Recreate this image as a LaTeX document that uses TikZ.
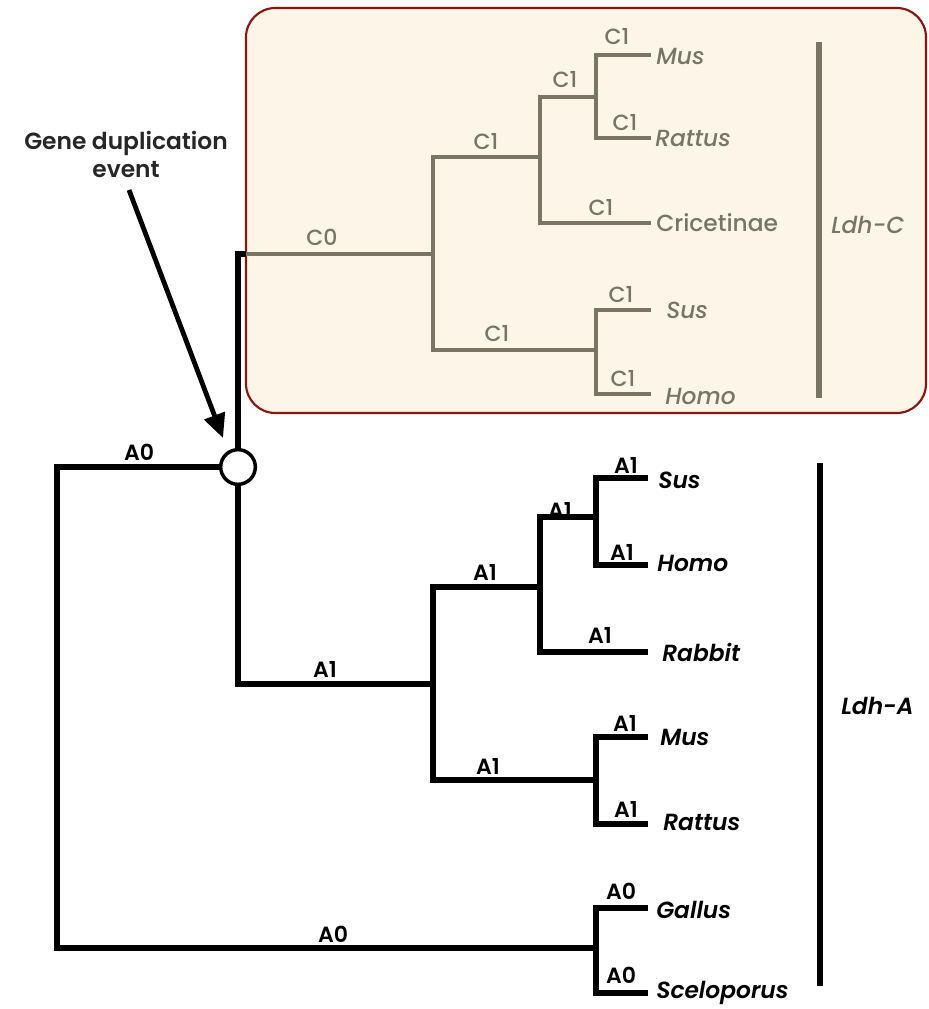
\documentclass[tikz,border=0pt]{standalone}
\usepackage{fontspec}
\setmainfont{Poppins}
\newfontfamily\popmed{Poppins Medium}
\newfontfamily\popsemi{Poppins SemiBold}
\usetikzlibrary{arrows.meta}
\definecolor{cgray}{RGB}{122,116,100}
\definecolor{ctext}{RGB}{122,116,102}
\definecolor{cbox}{RGB}{253,245,231}
\definecolor{cborder}{RGB}{140,22,12}
\tikzset{
  blk/.style={line width=3.8pt, black},
  gry/.style={line width=3.6pt, cgray},
  bar/.style={line width=4.6pt},
  albl/.style={font=\fontsize{16.5}{18}\selectfont\popsemi, inner sep=0pt, anchor=base},
  clbl/.style={font=\fontsize{16.5}{18}\selectfont\popmed, text=ctext, inner sep=0pt, anchor=base},
  aname/.style={font=\fontsize{17.5}{19}\selectfont\popsemi\itshape, inner sep=0pt, anchor=west},
  cname/.style={font=\fontsize{17.5}{19}\selectfont\popmed\itshape, text=ctext, inner sep=0pt, anchor=west},
}
\begin{document}
\begin{tikzpicture}[x=0.75pt,y=-0.75pt]
\useasboundingbox (0,0) rectangle (928,1009);
% box
\draw[cborder, fill=cbox, line width=1.6pt, rounded corners=22pt] (246,8) rectangle (926,413);

% ---------- coordinates ----------
\coordinate (r) at (57,700);
\node[circle, draw, line width=2.6pt, fill=white, minimum size=26pt, inner sep=0pt] (dup) at (238,467) {};
\coordinate (dtop) at (238,254);
\coordinate (bedge) at (246,254);
\coordinate (cn) at (433,254);
\coordinate (c1a) at (540,157);
\coordinate (c2a) at (596,97);
\coordinate (lcmus) at (651,55);
\coordinate (lcrat) at (651,138);
\coordinate (lccri) at (651,223);
\coordinate (c1b) at (596,350);
\coordinate (lcsus) at (651,310);
\coordinate (lchom) at (651,394);

\coordinate (an) at (433,684);
\coordinate (a1a) at (540,587);
\coordinate (a2a) at (596,517);
\coordinate (lasus) at (648,478);
\coordinate (lahom) at (648,565);
\coordinate (larab) at (648,652);
\coordinate (a1b) at (596,780);
\coordinate (lamus) at (648,737);
\coordinate (larat) at (648,824);
\coordinate (a0b) at (596,948);
\coordinate (lagal) at (648,908);
\coordinate (lasce) at (648,993);

% ---------- gray Ldh-C tree ----------
\draw[gry] (bedge) -- (cn);
\draw[gry] (cn) |- (c1a);
\draw[gry] (cn) |- (c1b);
\draw[gry] (c1a) |- (c2a);
\draw[gry] (c1a) |- (lccri);
\draw[gry] (c2a) |- (lcmus);
\draw[gry] (c2a) |- (lcrat);
\draw[gry] (c1b) |- (lcsus);
\draw[gry] (c1b) |- (lchom);

% ---------- black Ldh-A tree ----------
\draw[blk] (r) |- (dup.west);
\draw[blk] (r) |- (a0b);
\draw[blk] (dup.north) -- (dtop) -- (bedge);
\draw[blk] (dup.south) |- (an);
\draw[blk] (an) |- (a1a);
\draw[blk] (an) |- (a1b);
\draw[blk] (a1a) |- (a2a);
\draw[blk] (a1a) |- (larab);
\draw[blk] (a2a) |- (lasus);
\draw[blk] (a2a) |- (lahom);
\draw[blk] (a1b) |- (lamus);
\draw[blk] (a1b) |- (larat);
\draw[blk] (a0b) |- (lagal);
\draw[blk] (a0b) |- (lasce);

% ---------- bars ----------
\coordinate (cbt) at (819,42);
\coordinate (cbb) at (819,398);
\draw[bar, cgray] (cbt) -- (cbb);
\coordinate (abt) at (820,463);
\coordinate (abb) at (820,986);
\draw[bar, black] (abt) -- (abb);

% ---------- C labels ----------
\node[clbl] (lC0) at (322,245) {C0};
\node[clbl] (lC1a) at (486,150) {C1};
\node[clbl] (lC1b) at (497,341) {C1};
\node[clbl] (lC2a) at (565,88) {C1};
\node[clbl] (lCmus) at (617,45) {C1};
\node[clbl] (lCrat) at (625,131) {C1};
\node[clbl] (lCcri) at (601,216) {C1};
\node[clbl] (lCsus) at (621,302) {C1};
\node[clbl] (lChom) at (623,386) {C1};

\node[cname] (nCmus) at (656,56) {Mus};
\node[cname] (nCrat) at (655,138) {Rattus};
\node[cname, font=\fontsize{17.5}{19}\selectfont\popmed] (nCcri) at (656,223) {Cricetinae};
\node[cname] (nCsus) at (666,310) {Sus};
\node[cname] (nChom) at (665,396) {Homo};
\node[cname] (nLdhC) at (831,225) {Ldh-C};

% ---------- A labels ----------
\node[albl] (lA0a) at (139,460) {A0};
\node[albl] (lA1a) at (325,677) {A1};
\node[albl] (lA1b) at (485,580) {A1};
\node[albl] (lA2a) at (560,518) {A1};
\node[albl] (lAsus) at (626,473) {A1};
\node[albl] (lAhom) at (622,560) {A1};
\node[albl] (lArab) at (600,643) {A1};
\node[albl] (lA1c) at (488,774) {A1};
\node[albl] (lAmus) at (625,731) {A1};
\node[albl] (lArat) at (626,817) {A1};
\node[albl] (lA0b) at (333,942) {A0};
\node[albl] (lAgal) at (621,899) {A0};
\node[albl] (lAsce) at (621,983) {A0};

\node[aname] (nAsus) at (658,480) {Sus};
\node[aname] (nAhom) at (657,563) {Homo};
\node[aname] (nArab) at (662,652) {Rabbit};
\node[aname] (nAmus) at (660,737) {Mus};
\node[aname] (nArat) at (663,822) {Rattus};
\node[aname] (nAgal) at (656,910) {Gallus};
\node[aname] (nAsce) at (656,993) {Sceloporus};
\node[aname] (nLdhA) at (841,706) {Ldh-A};

% ---------- annotation ----------
\node[font=\fontsize{17.5}{21}\selectfont\popsemi, align=center, text=black!85, inner sep=0pt] (gde) at (126,154) {Gene duplication\\event};
\draw[line width=3.6pt, -{Triangle[length=18pt,width=16pt]}] (129,190) -- (223,438);
\end{tikzpicture}
\end{document}
